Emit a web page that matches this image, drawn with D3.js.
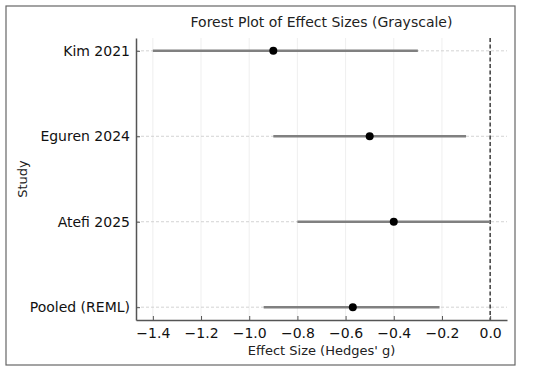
<!DOCTYPE html>
<html><head><meta charset="utf-8">
<script src="https://cdn.jsdelivr.net/npm/d3@7"></script>
<style>body{margin:0;background:#fff}svg{display:block}text{font-family:"DejaVu Sans",sans-serif}</style>
</head><body><svg id="c" width="550" height="373"></svg>
<script>
const studies = ["Kim 2021","Eguren 2024","Atefi 2025","Pooled (REML)"];
const effects = [-0.9,-0.5,-0.4,-0.57];
const ciLow = [-1.4,-0.9,-0.8,-0.94];
const ciHigh = [-0.3,-0.1,0.0,-0.21];
const xTicks = [-1.4,-1.2,-1.0,-0.8,-0.6,-0.4,-0.2,0.0];

const svg = d3.select("#c");
const L=136,R=507,T=38,B=320;
svg.append("rect").attr("x",6).attr("y",6).attr("width",509).attr("height",359).attr("fill","none").attr("stroke","#666").attr("stroke-width",1.2);

const x = d3.scaleLinear().domain([-1.47,0.07]).range([L,R]);
const y = d3.scalePoint().domain(studies).range([T,B]).padding(0.15);

// vertical grid
svg.append("g").selectAll("line").data(xTicks).join("line")
 .attr("x1",d=>x(d)).attr("x2",d=>x(d)).attr("y1",T).attr("y2",B)
 .attr("stroke","#ebebeb").attr("stroke-width",0.8);
// horizontal dashed grid
svg.append("g").selectAll("line").data(studies).join("line")
 .attr("x1",L).attr("x2",R).attr("y1",d=>y(d)).attr("y2",d=>y(d))
 .attr("stroke","#c8c8c8").attr("stroke-width",0.8).attr("stroke-dasharray","3,2");
// zero line
svg.append("line").attr("x1",x(0)).attr("x2",x(0)).attr("y1",T).attr("y2",B)
 .attr("stroke","#222").attr("stroke-width",1.3).attr("stroke-dasharray","4,2.5");
// CI lines
svg.append("g").selectAll("line").data(studies).join("line")
 .attr("x1",(d,i)=>x(ciLow[i])).attr("x2",(d,i)=>x(ciHigh[i]))
 .attr("y1",d=>y(d)).attr("y2",d=>y(d))
 .attr("stroke","#808080").attr("stroke-width",2.6);
svg.append("g").selectAll("circle").data(studies).join("circle")
 .attr("cx",(d,i)=>x(effects[i])).attr("cy",d=>y(d)).attr("r",4).attr("fill","#000");

// axes
const xa = svg.append("g").attr("transform",`translate(0,${B})`)
 .call(d3.axisBottom(x).tickValues(xTicks).tickSizeInner(-4).tickSizeOuter(0).tickPadding(8).tickFormat(d=>d3.format(".1f")(d).replace("-","\u2212")));
const ya = svg.append("g").attr("transform",`translate(${L},0)`)
 .call(d3.axisLeft(y).tickSizeInner(-4).tickSizeOuter(0).tickPadding(6));
[xa,ya].forEach(a=>{
 a.select(".domain").attr("stroke","#555").attr("stroke-width",1.5);
 a.selectAll(".tick line").attr("stroke","#555").attr("stroke-width",1);
 a.selectAll("text").attr("font-size",14).attr("fill","#111").attr("font-family","DejaVu Sans");
});
svg.append("text").attr("x",(L+R)/2).attr("y",27).attr("text-anchor","middle")
 .attr("font-size",14).attr("fill","#222").text("Forest Plot of Effect Sizes (Grayscale)");
svg.append("text").attr("x",(L+R)/2).attr("y",355).attr("text-anchor","middle")
 .attr("font-size",13).attr("fill","#222").text("Effect Size (Hedges' g)");
svg.append("text").attr("transform",`translate(27,${(T+B)/2}) rotate(-90)`).attr("text-anchor","middle")
 .attr("font-size",13).attr("fill","#222").text("Study");
</script></body></html>
